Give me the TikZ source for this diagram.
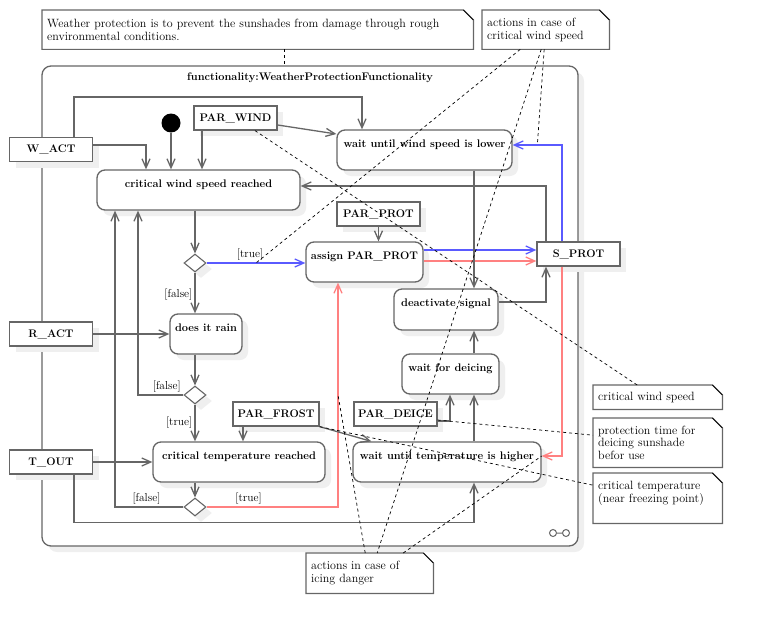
\documentclass[tikz,border=0pt]{standalone}
\usepackage{fontspec}
\usepackage{tikz}
\usetikzlibrary{
    calc,positioning,arrows.meta,shapes.geometric,shadows
}
\definecolor{linegray}{HTML}{666666}
\definecolor{shadowgray}{HTML}{EFEFEF}
\definecolor{flowblue}{HTML}{5A5AFF}
\definecolor{flowred}{HTML}{FF8080}
\newcommand{\drawnote}[1]{%
    \draw[linegray, line width=1.2pt] (#1.north west) -- ([xshift=-10pt]#1.north east)
        -- ([yshift=-10pt]#1.north east) -- (#1.south east) -- (#1.south west) -- cycle;
    \draw[black, line width=0.6pt] ([xshift=-10pt]#1.north east) -- ([yshift=-10pt]#1.north east);
}
\tikzset{
    >={Straight Barb[length=9pt,width=8pt]},
    softshadow/.style={drop shadow={shadow xshift=6pt, shadow yshift=-6pt, fill=shadowgray, opacity=1}},
    actframe/.style={rectangle, rounded corners=9pt, draw=linegray, line width=1.3pt, fill=white, softshadow},
    actbox/.style={
        rectangle,
        rounded corners=8pt,
        draw=linegray,
        line width=1.3pt,
        fill=white,
        softshadow,
        font={\fontsize{11pt}{13pt}\selectfont\bfseries},
        text height=13pt,
        text depth=19pt,
        inner ysep=4pt,
        inner xsep=3pt,
        minimum height=40pt
    },
    pinbox/.style={
        rectangle,
        draw=linegray,
        line width=1.3pt,
        fill=white,
        softshadow,
        font={\fontsize{11pt}{13pt}\selectfont\bfseries},
        minimum width=83pt,
        minimum height=24pt,
        inner sep=2pt
    },
    decision/.style={diamond, draw=linegray, line width=1.1pt, fill=white, softshadow,
        minimum width=22pt, minimum height=18pt, inner sep=0pt},
    startnode/.style={circle, fill=black, minimum size=19pt, inner sep=0pt},
    notebox/.style={anchor=north west, inner xsep=5pt, inner ysep=2pt, align=left,
        font={\fontsize{12pt}{12.5pt}\selectfont}},
    guard/.style={font={\fontsize{11.5pt}{13pt}\selectfont}, inner sep=2pt},
    flow/.style={draw=linegray, line width=1.3pt, ->},
    protflow/.style={draw=flowblue, line width=1.3pt, ->},
    iceflow/.style={draw=flowred, line width=1.3pt, ->},
    anchorline/.style={draw=black, line width=0.7pt, dash pattern=on 3pt off 3pt},
}

\begin{document}
\begin{tikzpicture}[x=1pt, y=-1pt]
\useasboundingbox (0,0) rectangle (762,634);

% Frame
\node[actframe, minimum width=536pt, minimum height=480pt] (fn) at (310,306) {};
\node[font={\fontsize{11pt}{13pt}\selectfont\bfseries}] (fntitle) at (310,78) {functionality:WeatherProtectionFunctionality};
\draw[linegray, line width=1pt] (553,533) circle (3.5) (566,533) circle (3.5) (556.5,533) -- (562.5,533);

% Pins
\node[pinbox] (wact) at (51,149.5) {W\_ACT};
\node[pinbox] (ract) at (51,334) {R\_ACT};
\node[pinbox] (tout) at (51,462) {T\_OUT};
\node[pinbox] (parwind) at (235.5,118) {PAR\_WIND};
\node[pinbox] (parprot) at (378.5,214) {PAR\_PROT};
\node[pinbox] (sprot) at (578.5,254) {S\_PROT};
\node[pinbox, minimum width=86pt] (parfrost) at (276,414) {PAR\_FROST};
\node[pinbox] (pardeice) at (395.5,414) {PAR\_DEICE};

% Actions
\node[startnode] (start) at (171,123) {};
\node[actbox, minimum width=203pt] (cwind) at (198.5,190) {critical wind speed reached};
\node[actbox, minimum width=175pt] (wwind) at (424.5,150) {wait until wind speed is lower};
\node[actbox, minimum width=117pt] (assign) at (364.5,262) {assign PAR\_PROT};
\node[actbox, minimum width=72pt] (rain) at (206,334) {does it rain};
\node[actbox, minimum width=104pt, minimum height=41pt] (deact) at (446,309.5) {deactivate signal};
\node[actbox, minimum width=97pt] (wdeice) at (450.5,374) {wait for deicing};
\node[actbox, minimum width=172pt] (ctemp) at (239,462) {critical temperature reached};
\node[actbox, minimum width=188pt] (wtemp) at (447,462) {wait until temperature is higher};

% Decisions
\node[decision] (dwind) at (195,263) {};
\node[decision] (drain) at (195,395) {};
\node[decision] (dtemp) at (195,507) {};

% Wind branch
\draw[flow] (start) -- (start |- cwind.north);
\draw[flow] ([xshift=-33.5pt]parwind.south) -- ([xshift=-33.5pt]parwind.south |- cwind.north);
\draw[flow] ([yshift=-7pt]parwind.east) -- ([yshift=16pt]wwind.west);
\draw[flow] ([yshift=4.5pt]wact.east) -| ([xshift=-52.5pt]cwind.north);
\draw[flow] ([xshift=23pt]wact.north) -- ++(0,-40) -| ([xshift=-62.5pt]wwind.north);
\draw[flow] (cwind.south -| dwind) -- (dwind.north);
\draw[protflow] (dwind.east) -- coordinate[pos=0.5] (truemid) node[guard, above, pos=0.44, text=black] {[true]} (dwind.east -| assign.west);
\draw[flow] (dwind.south) -- node[guard, left, pos=0.55] {[false]} (dwind.south |- rain.north);

% Rain branch
\draw[flow] (ract.east) -- (rain.west);
\draw[flow] (rain.south -| drain) -- (drain.north);
\draw[flow] (drain.west) -| node[guard, above left, pos=0] {[false]} ([xshift=-60.5pt]cwind.south);
\draw[flow] (drain.south) -- node[guard, left, pos=0.5] {[true]} (drain.south |- ctemp.north);

% Temperature branch
\draw[flow] ([xshift=-33pt]parfrost.south) -- ([xshift=-33pt]parfrost.south |- ctemp.north);
\draw[flow] (tout.east) -- (ctemp.west);
\draw[flow] (ctemp.south -| dtemp) -- (dtemp.north);
\draw[flow] (dtemp.west) -| node[guard, above, pos=0.27] {[false]} ([xshift=-83.5pt]cwind.south);
\draw[iceflow] (dtemp.east) -| node[guard, above, pos=0.16, text=black] {[true]} coordinate[pos=0.75] (redmid) ([xshift=-26.5pt]assign.south);

% Protection signal
\draw[flow] (parprot.south) -- (parprot.south |- assign.north);
\draw[protflow] ([yshift=12pt]assign.east) -- ([yshift=12pt]assign.east -| sprot.west);
\draw[iceflow] ([yshift=1pt]assign.east) -- ([yshift=1pt]assign.east -| sprot.west);
\draw[protflow] ([xshift=-16.5pt]sprot.north) |- coordinate[pos=0.75] (bluemid) ([yshift=5pt]wwind.east);
\draw[flow] ([xshift=-32.5pt]sprot.north) |- ([yshift=4pt]cwind.east);
\draw[iceflow] ([xshift=-16.5pt]sprot.south) |- coordinate[pos=1] (redend) ([yshift=6pt]wtemp.east);
\draw[flow] ([xshift=49.5pt]wwind.south) -- ([xshift=49.5pt]wwind.south |- deact.north);
\draw[flow] ([yshift=7.5pt]deact.east) -| ([xshift=-32.5pt]sprot.south);
\draw[flow] ([xshift=23.5pt]wdeice.north) -- ([xshift=23.5pt]wdeice.north |- deact.south);
\draw[flow] ([xshift=27pt]wtemp.north) -- ([xshift=27pt]wtemp.north |- wdeice.south);
\draw[flow] ([yshift=-7pt]pardeice.east) -| ([xshift=-0.5pt]wdeice.south);
\draw[flow] (parfrost.south east) -- ([xshift=19pt]wtemp.north west);
\draw[flow] ([xshift=23pt]tout.south) -- ++(0,48) -| ([xshift=27pt]wtemp.south);

% Notes
\node[notebox, text width=421pt, minimum height=39pt] (nwp) at (42,10) {Weather protection is to prevent the sunshades from damage through rough\\environmental conditions.};
\node[notebox, text width=117pt, minimum height=39pt] (nwind) at (482,10) {actions in case of\\critical wind speed};
\node[notebox, text width=119pt, minimum height=24pt] (ncws) at (593,385) {critical wind speed};
\node[notebox, text width=119pt, minimum height=49pt] (nptime) at (593,418) {protection time for\\deicing sunshade\\befor use};
\node[notebox, text width=119pt, minimum height=50pt] (nctemp) at (593,473) {critical temperature\\(near freezing point)\\\mbox{}};
\node[notebox, text width=117pt, minimum height=40pt] (nicing) at (306,553) {actions in case of\\icing danger};
\drawnote{nwp}
\drawnote{nwind}
\drawnote{ncws}
\drawnote{nptime}
\drawnote{nctemp}
\drawnote{nicing}

% Note anchors
\draw[anchorline] ([xshift=26.5pt]nwp.south) -- ([xshift=26.5pt]nwp.south |- fn.north);
\draw[anchorline] ([xshift=-25.5pt]nwind.south) -- (truemid);
\draw[anchorline] ([xshift=-4.5pt]nwind.south) -- ([xshift=7.5pt]nicing.north);
\draw[anchorline] ([xshift=-1.5pt]nwind.south) -- (bluemid);
\draw[anchorline] ([xshift=19.5pt]parwind.south) -- ([xshift=-20.5pt]ncws.north);
\draw[anchorline] ([yshift=-6pt]pardeice.east) -- ([yshift=7.5pt]nptime.west);
\draw[anchorline] (parfrost.south east) -- ([yshift=13pt]nctemp.west);
\draw[anchorline] ([xshift=-4.5pt]nicing.north) -- (redmid);
\draw[anchorline] ([xshift=33.5pt]nicing.north) -- (redend);
\end{tikzpicture}
\end{document}
